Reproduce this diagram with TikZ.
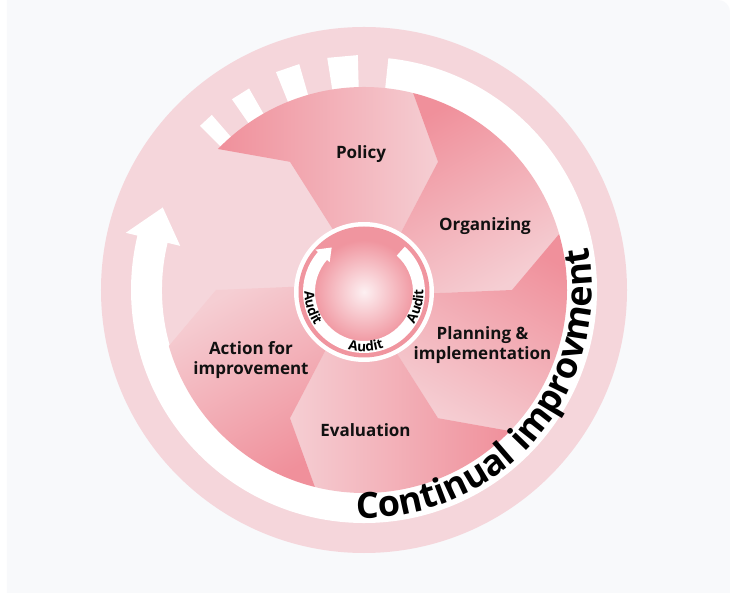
\documentclass[tikz,border=0pt]{standalone}
\usepackage{fontspec}
\setmainfont{Open Sans}
\usetikzlibrary{decorations.text}
\definecolor{pale}{HTML}{F5D6DB}
\definecolor{pdark}{HTML}{F0909B}
\definecolor{plight}{HTML}{F5CED3}
\definecolor{ringpink}{HTML}{F0959F}
\definecolor{diskcenter}{HTML}{FDF0F2}
\definecolor{panelbg}{HTML}{F8F9FB}
\definecolor{ink}{HTML}{111111}
\newcommand\cifont{\fontsize{36}{36}\selectfont\bfseries}
\newcommand\audfont{\fontsize{13.5}{13.5}\selectfont\bfseries}
\begin{document}
\begin{tikzpicture}[x=1pt,y=1pt,
  lbl/.style={font=\fontsize{17}{20}\selectfont\bfseries, align=center, text=ink, inner sep=0pt},
  petalshade/.style={top color=pdark, bottom color=plight},
  whitefill/.style={fill=white, draw=none}]
\useasboundingbox (-364,-303) rectangle (366,290);
\fill[white] (-364,-303) rectangle (366,290);
\fill[panelbg] (-357,-303) -- (-357,290) -- (354,290) arc[start angle=90,end angle=0,radius=12pt] -- (366,-303) -- cycle;
% outer pale disk
\fill[pale] (0,0) circle[radius=263pt];
% continual improvement band with arrow head
\fill[whitefill] (84:233pt) arc[start angle=84,end angle=-193.5,radius=233pt]
  -- (-193.5:245pt) -- (-202.3:217.5pt) -- (-193.5:189pt) -- (-193.5:202pt)
  arc[start angle=-193.5,end angle=84,radius=202pt] -- cycle;
% dashes
\foreach \a/\b/\r in {91.5/99/235, 106/112/235, 119.7/124.7/232, 131/135/232} {
  \fill[whitefill] (\a:198pt) -- (\a:\r pt) -- (\b:\r pt) -- (\b:198pt) -- cycle;
}
% petals
\foreach \k in {0,...,4} {
  \pgfmathsetmacro\R{76-60*\k}
  \pgfmathsetmacro\L{136-60*\k}
  \pgfmathsetmacro\S{90-60*\k}
  \shade[petalshade, shading angle=\S] (\R:203pt) arc[start angle=\R, end angle=\L, radius=203pt]
    -- (\L-16:148pt) -- (\L-19.5:60pt) -- (\R-19.5:60pt) -- (\R-16:148pt) -- cycle;
}
% band text
\path[decorate, decoration={text along path, text={|\cifont|Continual improvment}, text align=center}]
  (-100:228pt) arc[start angle=-100, end angle=19, radius=228pt];
% centre
\begin{scope}[shift={(0,-2)}]
  \fill[white] (0,0) circle[radius=70pt];
  \fill[ringpink] (0,0) circle[radius=65.5pt];
  \shade[inner color=diskcenter, outer color=ringpink] (0,0) circle[radius=52pt];
  \fill[whitefill] (48:61pt) arc[start angle=48,end angle=-221,radius=61pt]
    -- (-221:64.5pt) -- (-234:55pt) -- (-221:45.5pt) -- (-221:49pt)
    arc[start angle=-221,end angle=48,radius=49pt] -- cycle;
  \foreach \c in {197, 272, 345} {
    \path[decorate, decoration={text along path, text={|\audfont|Audit}, text align=center}]
      (\c-30:59.5pt) arc[start angle=\c-30, end angle=\c+30, radius=59.5pt];
  }
\end{scope}
% labels
\node[lbl] (policy) at (-3,136) {Policy};
\node[lbl] (organizing) at (121,64) {Organizing};
\node[lbl] (planning) at (118.5,-55) {Planning \&\\implementation};
\node[lbl] (evaluation) at (1.5,-140) {Evaluation};
\node[lbl] (action) at (-113,-70) {Action for\\improvement};
\end{tikzpicture}
\end{document}
